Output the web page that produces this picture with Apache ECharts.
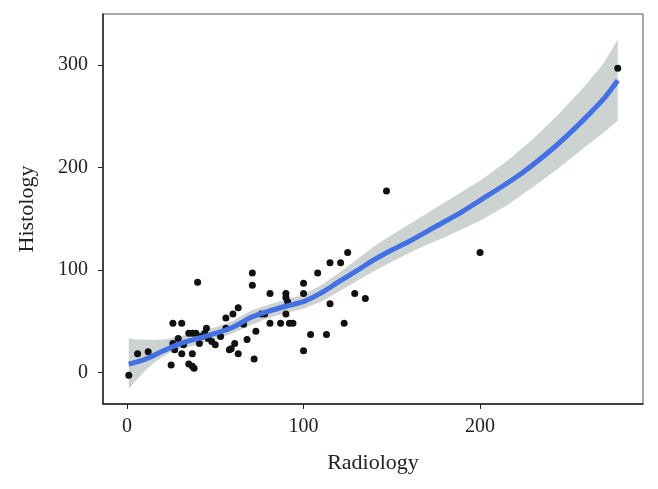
<!DOCTYPE html>
<html>
<head>
<meta charset="utf-8">
<script src="https://cdn.jsdelivr.net/npm/echarts@6/dist/echarts.min.js"></script>
<style>
html,body{margin:0;padding:0;background:#fff;}
#chart{width:658px;height:489px;}
</style>
</head>
<body>
<div id="chart"></div>
<script>
// Scatter data (Radiology, Histology)
const radiology = [1,6,12,25,26,31,27,29,26,31,32,35,37,39,37,35,37,38,40,41,42,44,45,46,48,50,53,56,56,58,59,60,61,63,63,66,68,71,71,72,73,76,78,81,81,87,90,90,91,90,92,94,100,100,100,104,108,113,115,115,121,123,125,129,135,147,200,278];
const histology = [-3,18,20,7,48,48,22,33,28,18,27,38,38,38,18,8,6,4,88,28,35,38,43,33,30,27,35,53,43,22,23,57,28,18,63,47,32,97,85,13,40,57,57,77,48,48,77,73,69,57,48,48,87,77,21,37,97,37,107,67,107,48,117,77,72,177,117,297];

// Smoothed fit line
const fitX = [1,10,20,30,40,50,60,70,80,90,100,110,120,130,140,150,160,175,190,200,212,224,236,248,260,270,278];
const fitY = [8,12.5,20.5,28,33,38,44,53.5,59.5,64.5,69,77.5,88.5,99,110,119.5,128,142.5,157,168,181,195,211,229,249,267,285];

// Confidence band
const bandX    = [1,5,10,15,20,25,30,40,50,60,70,80,90,100,110,120,130,140,150,165,180,200,215,230,245,260,270,278];
const bandLow  = [-16,-8,1,9,15,20,23,27,32,38,46,53,58,62,69,79,89,99,108,121,132,148,163,181,200,221,234,246];
const bandHigh = [33,32,32,31.5,32,33,35,39,44,50,60,66,71,76,85,97,110,123,134,150,166,187,206,228,253,281,302,325];

// Ticks
const xTicks = [0,100,200];
const yTicks = [0,100,200,300];

const chart = echarts.init(document.getElementById('chart'), null, {renderer:'canvas'});
const fontFam = '"Liberation Serif", "DejaVu Serif", serif';

chart.setOption({
  animation: false,
  backgroundColor: '#ffffff',
  grid: {left:103, right:15, top:14, bottom:85, show:true, borderColor:'#555', borderWidth:1, containLabel:false},
  xAxis: {
    type:'value', min:-13.6, max:292.3,
    name:'Radiology', nameLocation:'middle', nameGap:48,
    nameTextStyle:{fontFamily:fontFam, fontSize:22, color:'#222'},
    axisLine:{show:true, onZero:false, lineStyle:{color:'#222', width:1.5}},
    axisTick:{show:true, length:5, customValues:xTicks, lineStyle:{color:'#222'}},
    axisLabel:{customValues:xTicks, margin:13, fontFamily:fontFam, fontSize:20, color:'#222'},
    splitLine:{show:false}
  },
  yAxis: {
    type:'value', min:-31, max:350,
    name:'Histology', nameLocation:'middle', nameGap:65, nameRotate:90,
    nameTextStyle:{fontFamily:fontFam, fontSize:22, color:'#222'},
    axisLine:{show:true, onZero:false, lineStyle:{color:'#222', width:1.5}},
    axisTick:{show:true, length:5, customValues:yTicks, lineStyle:{color:'#222'}},
    axisLabel:{customValues:yTicks, margin:15, fontFamily:fontFam, fontSize:20, color:'#222'},
    splitLine:{show:false}
  },
  series: [
    {
      type:'custom', silent:true, z:1, clip:true,
      data:[[0,0]],
      renderItem: function(params, api){
        const pts = [];
        for (let i=0;i<bandX.length;i++) pts.push(api.coord([bandX[i], bandHigh[i]]));
        for (let i=bandX.length-1;i>=0;i--) pts.push(api.coord([bandX[i], bandLow[i]]));
        return {type:'polygon', shape:{points:pts}, style:{fill:'#cdd3d0', stroke:null}};
      }
    },
    {
      type:'scatter', z:3,
      data: radiology.map((x,i)=>[x, histology[i]]),
      symbolSize:7,
      itemStyle:{color:'#111111', opacity:1}
    },
    {
      type:'line', z:4,
      data: fitX.map((x,i)=>[x, fitY[i]]),
      smooth:0.25, showSymbol:false,
      lineStyle:{color:'#4470e6', width:5}
    }
  ]
});
</script>
</body>
</html>
